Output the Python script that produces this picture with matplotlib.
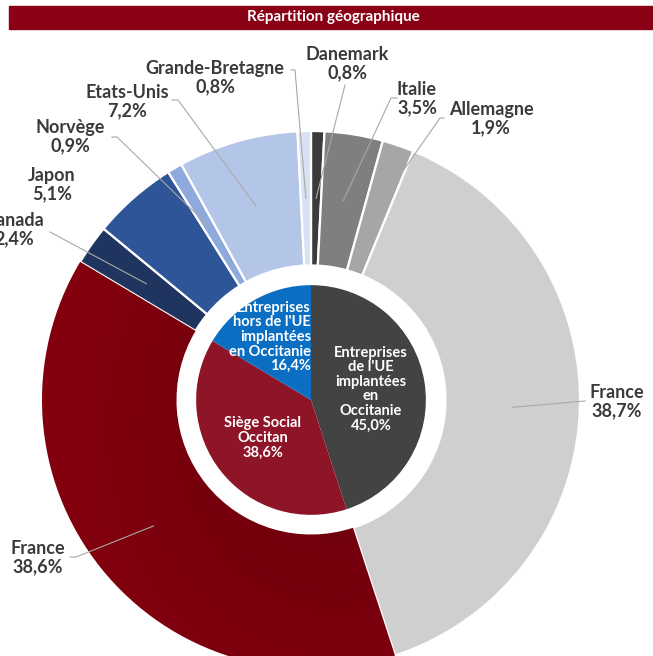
import matplotlib.pyplot as plt
import numpy as np
from matplotlib.colors import LinearSegmentedColormap

# outer ring, clockwise from 12 o'clock
pays = ["Danemark", "Italie", "Allemagne", "France", "France", "Canada",
        "Japon", "Norvège", "Etats-Unis", "Grande-Bretagne"]
parts_pays = [0.8, 3.5, 1.9, 38.7, 38.6, 2.4, 5.1, 0.9, 7.2, 0.8]
couleurs_pays = ["#3b3b3b", "#7f7f7f", "#a6a6a6", "#cfcfcf", "#7e000e",
                 "#1f3560", "#2e5597", "#8ea9db", "#b4c6e7", "#d9e2f3"]

# inner pie
groupes = ["Entreprises\nde l'UE\nimplantées\nen\nOccitanie", "Siège Social\nOccitan",
           "Entreprises\nhors de l'UE\nimplantées\nen Occitanie"]
parts_groupes = [45.0, 38.6, 16.4]
couleurs_groupes = ["#434343", "#8e1427", "#0a6fc2"]

fmt = lambda v: f"{v:.1f}".replace(".", ",") + "%"

plt.rcParams["font.family"] = ["Lato", "DejaVu Sans"]
fig = plt.figure(figsize=(6.53, 6.56), dpi=100)
ax = fig.add_axes([0, 0, 1, 1])

# pixel -> data (centre of the chart at pixel 311,400, outer radius 269 px)
S, CX, CY = 269.0, 311.0, 400.0
def px(x, y):
    return (x - CX) / S, (CY - y) / S

outer, _ = ax.pie(parts_pays, radius=1.0, colors=couleurs_pays, startangle=90,
                  counterclock=False,
                  wedgeprops=dict(width=0.5, edgecolor="white", linewidth=1.6))
inner, _ = ax.pie(parts_groupes, radius=0.427, colors=couleurs_groupes, startangle=90,
                  counterclock=False, wedgeprops=dict(linewidth=0))

# subtle gradient on the red France wedge
xx, yy = np.meshgrid(np.linspace(0, 1, 256), np.linspace(0, 1, 256))
grad = np.clip(1 - np.hypot(xx - 0.75, yy - 0.55) * 1.2, 0, 1)
cm = LinearSegmentedColormap.from_list("rouge", ["#8a0010", "#6a000b"])
img = ax.imshow(grad, cmap=cm, extent=(-1.1, 0.5, -1.1, 0.7), origin="lower",
                zorder=outer[4].get_zorder() + 0.1, interpolation="bilinear")
img.set_clip_path(outer[4])

ax.set_xlim(-CX / S, (653 - CX) / S)
ax.set_ylim(-(656 - CY) / S, CY / S)
ax.axis("off")

# label blocks: (centre of text, leader start points) in pixels
labels = [
    ((347, 64), [(345, 85)]),
    ((417, 99), [(397, 98), (391, 98)]),
    ((491, 119), [(444, 118), (440, 118)]),
    ((617, 402), [(585, 401)]),
    ((38, 558), [(70, 557), (76, 557)]),
    ((14, 230), [(50, 232)]),
    ((52, 185), None),
    ((70, 137), [(112, 137), (117, 137)]),
    ((127, 102), [(172, 100), (178, 100)]),
    ((215, 78), [(291, 70), (295, 70)]),
]
for w, nom, v, (pos, lead) in zip(outer, pays, parts_pays, labels):
    ax.text(*px(*pos), f"{nom}\n{fmt(v)}", ha="center", va="center",
            fontsize=13, fontweight="bold", color="#3a3a3a", linespacing=1.1)
    if lead:
        a = np.deg2rad((w.theta1 + w.theta2) / 2)
        pts = [px(*p) for p in lead] + [(0.75 * np.cos(a), 0.75 * np.sin(a))]
        xs, ys = zip(*pts)
        ax.plot(xs, ys, color="#a8a8a8", lw=0.8, zorder=5)

# inner labels
ax.text(*px(371, 389), f"{groupes[0]}\n{fmt(parts_groupes[0])}", ha="center", va="center",
        fontsize=10.5, fontweight="bold", color="white", linespacing=1.05)
ax.text(*px(263, 438), f"{groupes[1]}\n{fmt(parts_groupes[1])}", ha="center", va="center",
        fontsize=10.5, fontweight="bold", color="white", linespacing=1.05)
ax.text(*px(311, 337), f"{groupes[2]}\n{fmt(parts_groupes[2])}", ha="right", va="center",
        multialignment="right", fontsize=10.5, fontweight="bold", color="white",
        linespacing=1.05)

# title bar
fig.patches.append(plt.Rectangle((9 / 653, 1 - 29 / 656), 1 - 9 / 653, 23 / 656,
                                 transform=fig.transFigure, color="#8a0014"))
fig.text(0.51, 1 - 17.5 / 656, "Répartition géographique", ha="center", va="center",
         color="white", fontsize=11, fontweight="bold")

fig.savefig("out.png", dpi=100)
